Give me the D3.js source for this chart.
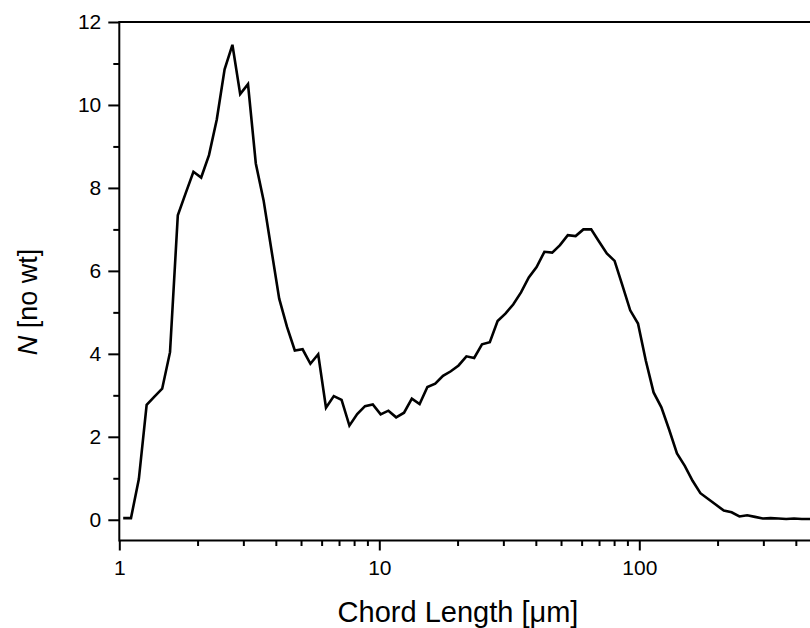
<!DOCTYPE html>
<html>
<head>
<meta charset="utf-8">
<script src="https://cdn.jsdelivr.net/npm/d3@7"></script>
<style>
  body { margin: 0; background: #fff; }
  svg { display: block; font-family: "Liberation Sans", Arial, sans-serif; }
  .axis line { stroke: #000; stroke-width: 2; }
  .axis path { display: none; }
</style>
</head>
<body>
<div class="chart"></div>
<script>
// Chord length channel midpoints [um]
const chordLength = [
  1.035, 1.109, 1.189, 1.274, 1.365, 1.462, 1.567, 1.679, 1.799, 1.928,
  2.065, 2.213, 2.371, 2.541, 2.723, 2.917, 3.126, 3.350, 3.589, 3.846,
  4.121, 4.416, 4.732, 5.070, 5.433, 5.821, 6.237, 6.683, 7.161, 7.674,
  8.222, 8.811, 9.441, 10.12, 10.84, 11.61, 12.45, 13.34, 14.29, 15.31,
  16.41, 17.58, 18.84, 20.18, 21.63, 23.17, 24.83, 26.61, 28.51, 30.55,
  32.73, 35.08, 37.58, 40.27, 43.15, 46.24, 49.55, 53.09, 56.89, 60.95,
  65.31, 69.98, 74.99, 80.35, 86.10, 92.26, 98.86, 105.9, 113.5, 121.6,
  130.3, 139.6, 149.6, 160.3, 171.8, 184.1, 197.2, 211.4, 226.5, 242.7,
  260.0, 278.6, 298.5, 319.9, 342.8, 367.3, 393.6, 421.7, 451.9, 484.2
];

// N [no wt] per channel
const counts = [
  0.04, 0.04, 0.98, 2.77, 2.97, 3.16, 4.04, 7.34, 7.87, 8.39,
  8.25, 8.79, 9.65, 10.86, 11.45, 10.26, 10.50, 8.59, 7.70, 6.51,
  5.33, 4.65, 4.08, 4.11, 3.76, 3.99, 2.70, 2.98, 2.89, 2.27,
  2.55, 2.74, 2.78, 2.54, 2.63, 2.47, 2.58, 2.92, 2.79, 3.20,
  3.28, 3.47, 3.58, 3.72, 3.94, 3.90, 4.23, 4.28, 4.79, 4.97,
  5.19, 5.48, 5.84, 6.09, 6.46, 6.44, 6.62, 6.86, 6.84, 7.00,
  7.00, 6.71, 6.42, 6.24, 5.65, 5.05, 4.73, 3.84, 3.07, 2.71,
  2.17, 1.60, 1.30, 0.94, 0.64, 0.50, 0.36, 0.22, 0.18, 0.08,
  0.11, 0.07, 0.03, 0.04, 0.03, 0.02, 0.03, 0.02, 0.02, 0.02
];

const xMajorTicks = [1, 10, 100];
const xMinorTicks = [2, 3, 4, 5, 6, 7, 8, 9, 20, 30, 40, 50, 60, 70, 80, 90, 200, 300, 400, 500, 600, 700, 800, 900];
const yMajorTicks = [0, 2, 4, 6, 8, 10, 12];
const yMinorTicks = [1, 3, 5, 7, 9, 11];

const WIDTH = 810, HEIGHT = 628;
const LEFT = 119.3, TOP = 22, BOTTOM = 540.5;
const FONT = '"Liberation Sans", Arial, sans-serif';

const svg = d3.select(".chart").append("svg")
  .attr("width", WIDTH)
  .attr("height", HEIGHT);

// Scales (plot runs past the right edge of the picture)
const xScale = d3.scaleLog()
  .domain([1, 1000])
  .range([LEFT, LEFT + 780]);

const yScale = d3.scaleLinear()
  .domain([-0.5, 12])
  .range([BOTTOM, TOP]);

const styleLabels = g => g
  .attr("font-family", FONT)
  .attr("font-size", 21)
  .call(s => s.selectAll("text").attr("fill", "#000").style("font-size", "21px"));

// X axis
svg.append("g")
  .attr("class", "axis")
  .attr("transform", `translate(0, ${BOTTOM})`)
  .call(d3.axisBottom(xScale).tickValues(xMinorTicks).tickSize(5.5).tickFormat(""));

svg.append("g")
  .attr("class", "axis")
  .attr("transform", `translate(0, ${BOTTOM})`)
  .call(d3.axisBottom(xScale).tickValues(xMajorTicks).tickSize(10).tickPadding(10).tickFormat(d3.format("d")))
  .call(styleLabels);

// Y axis
svg.append("g")
  .attr("class", "axis")
  .attr("transform", `translate(${LEFT}, 0)`)
  .call(d3.axisLeft(yScale).tickValues(yMinorTicks).tickSize(6).tickFormat(""));

svg.append("g")
  .attr("class", "axis")
  .attr("transform", `translate(${LEFT}, 0)`)
  .call(d3.axisLeft(yScale).tickValues(yMajorTicks).tickSize(11).tickPadding(7).tickFormat(d3.format("d")))
  .call(styleLabels);

// Frame lines
svg.append("line")
  .attr("x1", LEFT).attr("x2", xScale(1000))
  .attr("y1", BOTTOM).attr("y2", BOTTOM)
  .attr("stroke", "#000").attr("stroke-width", 2);

svg.append("line")
  .attr("x1", LEFT).attr("x2", LEFT)
  .attr("y1", TOP - 1).attr("y2", BOTTOM + 1)
  .attr("stroke", "#000").attr("stroke-width", 2);

svg.append("line")
  .attr("x1", LEFT).attr("x2", xScale(1000))
  .attr("y1", TOP).attr("y2", TOP)
  .attr("stroke", "#000").attr("stroke-width", 2);

// Curve
const line = d3.line()
  .x((d, i) => xScale(chordLength[i]))
  .y(d => yScale(d));

svg.append("path")
  .datum(counts)
  .attr("fill", "none")
  .attr("stroke", "#000")
  .attr("stroke-width", 2.6)
  .attr("stroke-linejoin", "miter")
  .attr("d", line);

// Axis titles
const xLabel = svg.append("text")
  .attr("font-family", FONT)
  .attr("font-size", 29)
  .attr("x", 458)
  .attr("y", 622)
  .attr("text-anchor", "middle");
xLabel.append("tspan").text("Chord Length [");
xLabel.append("tspan").text("\u03bcm");
xLabel.append("tspan").text("]");

const yLabel = svg.append("text")
  .attr("font-family", FONT)
  .attr("font-size", 27)
  .attr("transform", "rotate(-90)")
  .attr("x", -302)
  .attr("y", 37)
  .attr("text-anchor", "middle");
yLabel.append("tspan").attr("font-style", "italic").text("N");
yLabel.append("tspan").text(" [no wt]");
</script>
</body>
</html>
